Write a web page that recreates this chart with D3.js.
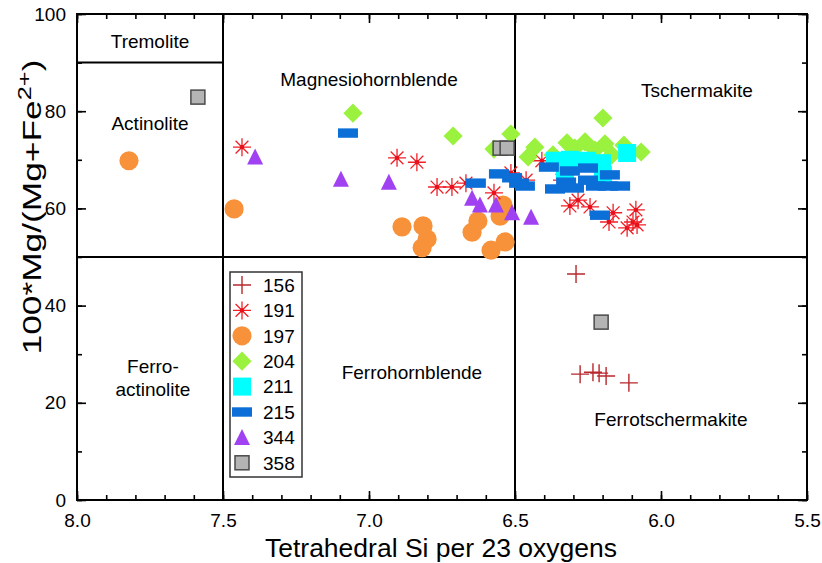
<!DOCTYPE html>
<html>
<head>
<meta charset="utf-8">
<script src="https://cdn.jsdelivr.net/npm/d3@7"></script>
<style>
body{margin:0;background:#fff;}
svg text{font-family:"Liberation Sans",Arial,Helvetica,sans-serif;}
</style>
</head>
<body>
<div id="wrapper"></div>
<script>
// data: [Si, Mg#] per sample
const s156=[[6.291,46.5],[6.277,25.9],[6.233,26.3],[6.212,26.1],[6.188,25.5],[6.110,24.1]];
const s191=[[7.435,72.6],[6.904,70.4],[6.836,69.5],[6.767,64.4],[6.716,64.4],[6.668,65.2],[6.572,63.2],[6.514,67.3],
  [6.462,65.8],[6.408,69.8],[6.339,65.8],[6.312,60.5],[6.284,61.7],[6.243,60.3],[6.164,59.1],[6.178,57.2],
  [6.116,56.0],[6.086,59.7],[6.096,57.2],[6.082,56.6]];
const s197=[[7.822,69.8],[7.462,59.9],[6.887,56.2],[6.815,56.4],[6.801,53.7],[6.818,51.9],[6.647,55.1],[6.627,57.4],
  [6.582,51.4],[6.534,53.1],[6.541,60.7],[6.551,58.4]];
const s204=[[7.055,79.6],[6.712,74.9],[6.514,75.3],[6.572,72.2],[6.199,78.6],[6.432,72.6],[6.455,70.6],[6.370,71.0],
  [6.322,73.5],[6.260,73.7],[6.192,73.3],[6.127,73.0],[6.168,71.0],[6.068,71.6],[6.295,72.4],[6.226,72.0]];
const s211=[[6.363,69.8],[6.312,70.0],[6.253,69.8],[6.202,69.3],[6.199,66.9],[6.116,71.4],[6.329,67.9]];
const s215=[[7.072,75.5],[6.634,65.2],[6.555,67.1],[6.510,66.3],[6.486,65.2],[6.466,64.6],[6.384,68.5],[6.363,64.0],
  [6.312,67.7],[6.298,64.2],[6.250,68.3],[6.250,65.8],[6.223,64.6],[6.175,66.9],[6.182,64.6],[6.140,64.6],
  [6.209,58.6],[6.325,65.4]];
const s344=[[7.390,70.6],[7.096,66.0],[6.932,65.4],[6.647,62.1],[6.620,60.7],[6.565,60.7],[6.510,59.1],[6.445,58.2]];
const s358=[[7.586,82.9],[6.551,72.4],[6.527,72.4],[6.205,36.6]];

const legendNames=['156','191','197','204','211','215','344','358'];
const xTicks=[8.0,7.5,7.0,6.5,6.0,5.5];
const yTicks=[0,20,40,60,80,100];
// field boundaries and names (label y = baseline)
const vLines=[[7.5,0,100],[6.5,0,100]];
const hLines=[[50,8,5.5],[90,8,7.5]];
const fields=[
  {name:['Tremolite'],x:7.75,y:93.0},
  {name:['Actinolite'],x:7.75,y:76.1},
  {name:['Magnesiohornblende'],x:7.0,y:85.2},
  {name:['Tschermakite'],x:5.877,y:82.9},
  {name:['Ferro-','actinolite'],x:7.74,y:26.1},
  {name:['Ferrohornblende'],x:6.853,y:24.9},
  {name:['Ferrotschermakite'],x:5.966,y:15.2}
];

const dimensions={width:822,height:563,margins:{top:14,right:15,bottom:63,left:77}};
dimensions.boundedWidth=dimensions.width-dimensions.margins.left-dimensions.margins.right;
dimensions.boundedHeight=dimensions.height-dimensions.margins.top-dimensions.margins.bottom;

const svg=d3.select('#wrapper').append('svg')
  .attr('width',dimensions.width).attr('height',dimensions.height);
const bounds=svg.append('g')
  .attr('transform',`translate(${dimensions.margins.left},${dimensions.margins.top})`);

const xScale=d3.scaleLinear().domain([8,5.5]).range([0,dimensions.boundedWidth]);
const yScale=d3.scaleLinear().domain([0,100]).range([dimensions.boundedHeight,0]);

// marker drawers
const markers={
  '156':(g)=>{g.append('path').attr('d','M-9,0H9M0,-9V9').attr('stroke','#b8272c').attr('stroke-width',1.4).attr('fill','none');},
  '191':(g)=>{
    g.append('path').attr('d','M-9,0H9M0,-9V9M-6.4,-6.4L6.4,6.4M-6.4,6.4L6.4,-6.4')
      .attr('stroke','#f02028').attr('stroke-width',1.3).attr('fill','none');
    g.append('circle').attr('r',2.2).attr('fill','#e8101c');},
  '197':(g)=>{g.append('circle').attr('r',9.6).attr('fill','#f8923a');},
  '204':(g)=>{g.append('path').attr('d','M0,-9.6L9.6,0L0,9.6L-9.6,0Z').attr('fill','#9af23e');},
  '211':(g)=>{g.append('rect').attr('x',-9).attr('y',-9).attr('width',18).attr('height',18).attr('fill','#00ffff');},
  '215':(g)=>{g.append('rect').attr('x',-10).attr('y',-4.7).attr('width',20).attr('height',9.4).attr('fill','#0c6fd8');},
  '344':(g)=>{g.append('path').attr('d','M0,-8.5L8,7.5L-8,7.5Z').attr('fill','#a041f2');},
  '358':(g)=>{g.append('rect').attr('x',-7).attr('y',-7).attr('width',14).attr('height',14)
      .attr('fill','#b4b4b4').attr('stroke','#4a4a4a').attr('stroke-width',1.5);}
};

// boundary lines
vLines.forEach(([x,y0,y1])=>bounds.append('line')
  .attr('x1',xScale(x)).attr('x2',xScale(x)).attr('y1',yScale(y0)).attr('y2',yScale(y1))
  .attr('stroke','black').attr('stroke-width',2));
hLines.forEach(([y,x0,x1])=>bounds.append('line')
  .attr('x1',xScale(x0)).attr('x2',xScale(x1)).attr('y1',yScale(y)).attr('y2',yScale(y))
  .attr('stroke','black').attr('stroke-width',2));

// field names
fields.forEach(f=>{
  const t=bounds.append('text').attr('text-anchor','middle').attr('font-size',19)
    .attr('x',xScale(f.x)).attr('y',yScale(f.y));
  f.name.forEach((s,i)=>t.append('tspan').attr('x',xScale(f.x)).attr('dy',i? 23:0).text(s));
});

// points
const seriesData=[['156',s156],['197',s197],['191',s191],['204',s204],['211',s211],['215',s215],['344',s344],['358',s358]];
seriesData.forEach(([name,data])=>{
  bounds.append('g').selectAll('g').data(data).enter().append('g')
    .attr('transform',d=>`translate(${xScale(d[0])},${yScale(d[1])})`)
    .each(function(){markers[name](d3.select(this));});
});

// axes (ticks inside)
const minorX=d3.range(0,26).map(i=>8-i*0.1);
const minorY=d3.range(0,11).map(i=>i*10);
bounds.append('g').attr('transform',`translate(0,${dimensions.boundedHeight})`)
  .call(d3.axisBottom(xScale).tickValues(minorX).tickSizeInner(-5).tickSizeOuter(0).tickFormat(''));
bounds.append('g').attr('transform',`translate(0,${dimensions.boundedHeight})`)
  .call(d3.axisBottom(xScale).tickValues(xTicks).tickSizeInner(-9).tickSizeOuter(0).tickPadding(14).tickFormat(d3.format('.1f')));
bounds.append('g').call(d3.axisTop(xScale).tickValues(minorX).tickSizeInner(-5).tickSizeOuter(0).tickFormat(''));
bounds.append('g').call(d3.axisTop(xScale).tickValues(xTicks).tickSizeInner(-9).tickSizeOuter(0).tickFormat(''));
bounds.append('g').call(d3.axisLeft(yScale).tickValues(minorY).tickSizeInner(-5).tickSizeOuter(0).tickFormat(''));
bounds.append('g').call(d3.axisLeft(yScale).tickValues(yTicks).tickSizeInner(-9).tickSizeOuter(0).tickPadding(11).tickFormat(d3.format('d')));
bounds.append('g').attr('transform',`translate(${dimensions.boundedWidth},0)`)
  .call(d3.axisRight(yScale).tickValues(minorY).tickSizeInner(-5).tickSizeOuter(0).tickFormat(''));
bounds.append('g').attr('transform',`translate(${dimensions.boundedWidth},0)`)
  .call(d3.axisRight(yScale).tickValues(yTicks).tickSizeInner(-9).tickSizeOuter(0).tickFormat(''));
bounds.selectAll('.domain').remove();
bounds.selectAll('.tick line').attr('stroke','black').attr('stroke-width',1.6);
bounds.selectAll('.tick text').attr('font-size',19).attr('fill','black')
  .style('font-family','"Liberation Sans",Arial,sans-serif');

// frame
bounds.append('rect').attr('width',dimensions.boundedWidth).attr('height',dimensions.boundedHeight)
  .attr('fill','none').attr('stroke','black').attr('stroke-width',2);

// legend
const legend=bounds.append('g').attr('transform',`translate(${230-dimensions.margins.left},${272-dimensions.margins.top})`);
legend.append('rect').attr('width',72).attr('height',205).attr('fill','white')
  .attr('stroke','#333').attr('stroke-width',1.5);
legendNames.forEach((n,i)=>{
  const row=legend.append('g').attr('transform',`translate(12,${13+i*25.4})`);
  markers[n](row);
  row.append('text').attr('x',21).attr('dy','0.36em').attr('font-size',19).text(n);
});

// axis titles
svg.append('text').attr('x',441).attr('y',557).attr('text-anchor','middle')
  .attr('font-size',26.5).text('Tetrahedral Si per 23 oxygens');
const yl=svg.append('text').attr('transform','translate(41,207) rotate(-90)')
  .attr('text-anchor','middle').attr('font-size',25)
  .attr('textLength',295).attr('lengthAdjust','spacingAndGlyphs');
yl.append('tspan').text('100*Mg/(Mg+Fe');
yl.append('tspan').attr('dy',-10).attr('font-size',18).text('2+');
yl.append('tspan').attr('dy',10).text(')');
</script>
</body>
</html>
